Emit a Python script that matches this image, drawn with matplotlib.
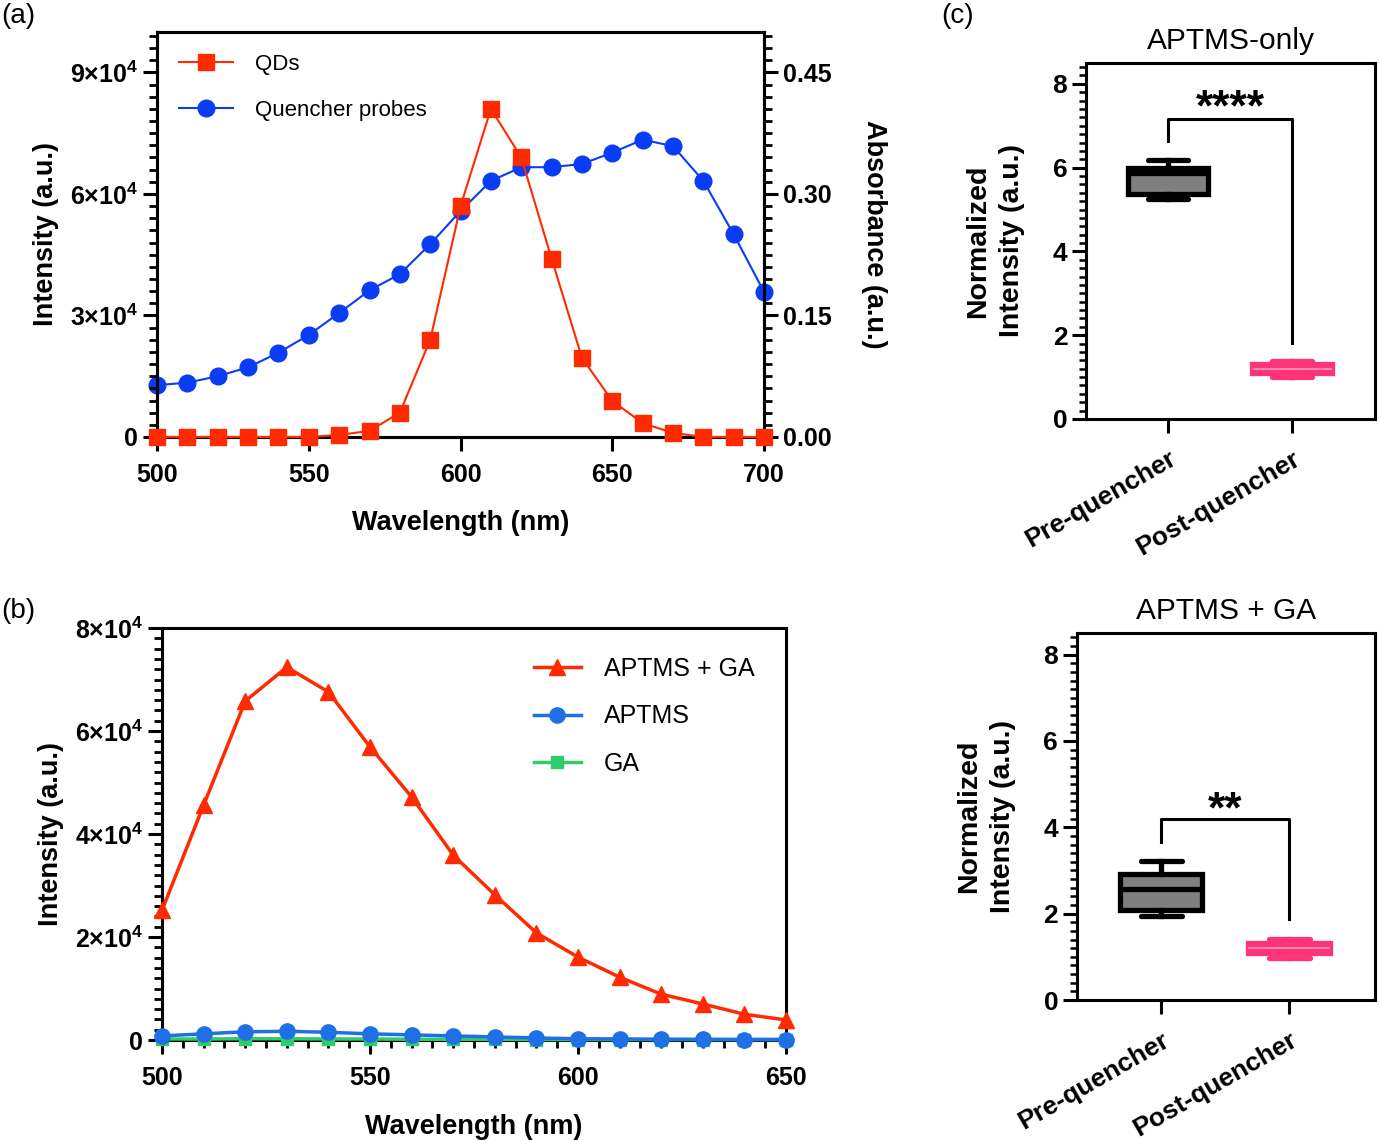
import matplotlib
matplotlib.use("Agg")
import matplotlib.pyplot as plt
from matplotlib.ticker import MultipleLocator
import numpy as np

plt.rcParams['font.family'] = ['Liberation Sans', 'DejaVu Sans']
plt.rcParams['mathtext.fontset'] = 'custom'
plt.rcParams['mathtext.rm'] = 'Liberation Sans:bold'
plt.rcParams['mathtext.bf'] = 'Liberation Sans:bold'
plt.rcParams['axes.linewidth'] = 2.2

# ---- data (a) ----
wl_a = [500, 510, 520, 530, 540, 550, 560, 570, 580, 590, 600,
        610, 620, 630, 640, 650, 660, 670, 680, 690, 700]
qds = [0, 0, 0, 0, 0, 0, 500, 1500, 6000, 24000, 57000,
       81000, 69000, 44000, 19500, 8900, 3400, 1000, 0, 0, 0]
quencher_abs = [0.064, 0.067, 0.075, 0.086, 0.104, 0.126, 0.153, 0.181, 0.201, 0.238, 0.279,
                0.316, 0.333, 0.333, 0.337, 0.351, 0.367, 0.359, 0.316, 0.250, 0.179]
yticks_a = [0, 30000, 60000, 90000]
yticklabels_a = ['$0$', '$3{\\times}10^4$', '$6{\\times}10^4$', '$9{\\times}10^4$']
abs_ticks = [0.00, 0.15, 0.30, 0.45]

# ---- data (b) ----
wl_b = [500, 510, 520, 530, 540, 550, 560, 570, 580, 590, 600,
        610, 620, 630, 640, 650]
aptms_ga = [25200, 45600, 65800, 72400, 67600, 56900, 47200, 35900, 28200, 20800, 16100,
            12200, 8900, 7000, 5000, 3900]
aptms = [800, 1200, 1600, 1700, 1500, 1200, 1000, 800, 600, 400, 250,
         200, 150, 120, 100, 100]
ga = [200, 200, 250, 250, 200, 200, 150, 150, 150, 100, 100,
      100, 100, 100, 100, 100]
yticks_b = [0, 20000, 40000, 60000, 80000]
yticklabels_b = ['$0$', '$2{\\times}10^4$', '$4{\\times}10^4$', '$6{\\times}10^4$', '$8{\\times}10^4$']

# ---- data (c) box stats: whislo, q1, med, q3, whishi ----
groups = ['Pre-quencher', 'Post-quencher']
only_pre = [5.26, 5.38, 5.88, 6.00, 6.19]
only_post = [1.00, 1.10, 1.20, 1.30, 1.38]
ga_pre = [1.95, 2.08, 2.58, 2.92, 3.22]
ga_post = [0.97, 1.08, 1.20, 1.32, 1.42]
sig_only = '****'
sig_ga = '**'

red = '#ff2a00'
blue_a = '#0a3cf5'
blue_b = '#1f6fe6'
green = '#2ecc6a'
pink = '#ff3377'

fig = plt.figure(figsize=(13.8, 11.4), dpi=100)


def style_ticks(ax, size=18):
    ax.tick_params(axis='both', which='major', length=10, width=2.2, labelsize=size)
    ax.tick_params(axis='both', which='minor', length=6, width=2.0)
    for lbl in ax.get_xticklabels() + ax.get_yticklabels():
        lbl.set_fontweight('bold')


# ===== panel (a) =====
ax1 = fig.add_axes([0.1138, 0.6167, 0.4399, 0.3553])
ax1.plot(wl_a, qds, color=red, marker='s', ms=11, lw=1.5, clip_on=False, zorder=4, label='QDs')
ax1.set_xlim(500, 700)
ax1.set_ylim(0, 100000)
ax1.set_yticks(yticks_a)
ax1.set_yticklabels(yticklabels_a)
ax1.yaxis.set_minor_locator(MultipleLocator(3000))
ax1.set_xticks([500, 550, 600, 650, 700])
style_ticks(ax1)
ax1.tick_params(axis='x', pad=9)
ax1.set_xlabel('Wavelength (nm)', fontsize=19.5, fontweight='bold', labelpad=16)
ax1.set_ylabel('Intensity (a.u.)', fontsize=19.5, fontweight='bold', labelpad=8)

ax2 = ax1.twinx()
ax2.plot(wl_a, quencher_abs, color=blue_a, marker='o', ms=12, lw=1.5, clip_on=False, zorder=3,
         label='Quencher probes')
ax2.set_ylim(0, 0.5)
ax2.set_yticks(abs_ticks)
ax2.set_yticklabels(['%.2f' % v for v in abs_ticks])
ax2.yaxis.set_minor_locator(MultipleLocator(0.015))
style_ticks(ax2)
ax2.set_ylabel('Absorbance (a.u.)', fontsize=19.5, fontweight='bold', rotation=270, labelpad=40)
ax1.set_zorder(ax2.get_zorder() + 1)
ax1.patch.set_visible(False)

h1, l1 = ax1.get_legend_handles_labels()
h2, l2 = ax2.get_legend_handles_labels()
ax1.legend(h1 + h2, l1 + l2, loc='upper left', frameon=False, fontsize=16,
           handlelength=2.4, handletextpad=1.0, labelspacing=1.1,
           bbox_to_anchor=(0.0, 1.0), borderaxespad=0.6)

# ===== panel (b) =====
ax3 = fig.add_axes([0.1174, 0.0877, 0.4522, 0.3614])
ax3.plot(wl_b, aptms_ga, color=red, marker='^', ms=11, lw=2.5, clip_on=False, zorder=5, label='APTMS + GA')
ax3.plot(wl_b, aptms, color=blue_b, marker='o', ms=11, lw=2.5, clip_on=False, zorder=4, label='APTMS')
ax3.plot(wl_b, ga, color=green, marker='s', ms=9, lw=2.5, clip_on=False, zorder=3, label='GA')
ax3.set_xlim(500, 650)
ax3.set_ylim(0, 80000)
ax3.set_yticks(yticks_b)
ax3.set_yticklabels(yticklabels_b)
ax3.set_xticks([500, 550, 600, 650])
ax3.xaxis.set_minor_locator(MultipleLocator(5))
ax3.yaxis.set_minor_locator(MultipleLocator(2000))
style_ticks(ax3)
ax3.tick_params(axis='x', pad=9)
ax3.set_xlabel('Wavelength (nm)', fontsize=19.5, fontweight='bold', labelpad=17)
ax3.set_ylabel('Intensity (a.u.)', fontsize=19.5, fontweight='bold', labelpad=8)
ax3.legend(loc='upper right', frameon=False, fontsize=18, handlelength=1.9,
           handletextpad=0.9, labelspacing=0.95, bbox_to_anchor=(0.985, 0.985))


# ===== panel (c) =====
def box_panel(ax, pre, post, sig, title, y_left, y_top, y_right, y_sig):
    stats = []
    for s, lab in zip([pre, post], groups):
        stats.append(dict(whislo=s[0], q1=s[1], med=s[2], q3=s[3], whishi=s[4], label=lab))
    bp = ax.bxp(stats, positions=[0, 1], widths=0.64, patch_artist=True, showfliers=False,
                showcaps=True)
    bp['boxes'][0].set(facecolor='#7f7f7f', edgecolor='black', linewidth=3.8)
    bp['boxes'][1].set(facecolor=pink, edgecolor=pink, linewidth=3.8)
    bp['medians'][0].set(color='black', linewidth=3.8)
    bp['medians'][1].set(color='#ff88aa', linewidth=1.5)
    for i, c in enumerate(['black', pink]):
        for w in bp['whiskers'][2 * i:2 * i + 2]:
            w.set(color=c, linewidth=3.8)
        for cp in bp['caps'][2 * i:2 * i + 2]:
            cp.set(color=c, linewidth=3.8, solid_capstyle='round')
    ax.set_xlim(-0.66, 1.67)
    ax.set_ylim(0, 8.5)
    ax.set_yticks([0, 2, 4, 6, 8])
    ax.yaxis.set_minor_locator(MultipleLocator(0.2))
    ax.set_xticks([0, 1])
    ax.set_xticklabels(groups, rotation=30, ha='right', rotation_mode='anchor')
    ax.tick_params(axis='both', which='major', length=10, width=2.2, labelsize=19)
    ax.tick_params(axis='y', which='minor', length=5, width=1.8)
    ax.tick_params(axis='x', pad=10)
    for lbl in ax.get_xticklabels() + ax.get_yticklabels():
        lbl.set_fontweight('bold')
    ax.set_ylabel('Normalized\nIntensity (a.u.)', fontsize=20.5, fontweight='bold', labelpad=20,
                  linespacing=1.4)
    ax.set_title(title, fontsize=21.5, pad=10)
    ax.plot([0, 0, 1, 1], [y_left, y_top, y_top, y_right], color='black', lw=2.2)
    ax.text(0.5, y_sig, sig, ha='center', va='center', fontsize=32, fontweight='bold')


ax4 = fig.add_axes([0.787, 0.6325, 0.2094, 0.3123])
box_panel(ax4, only_pre, only_post, sig_only, 'APTMS-only', 6.64, 7.17, 1.81, 7.4)

ax5 = fig.add_axes([0.7804, 0.1228, 0.216, 0.3219])
box_panel(ax5, ga_pre, ga_post, sig_ga, 'APTMS + GA', 3.67, 4.2, 1.88, 4.38)

# panel letters
fig.text(0.001, 0.986, '(a)', fontsize=20, va='center')
fig.text(0.001, 0.464, '(b)', fontsize=20, va='center')
fig.text(0.682, 0.986, '(c)', fontsize=20, va='center')

fig.savefig('out.png', dpi=100)
